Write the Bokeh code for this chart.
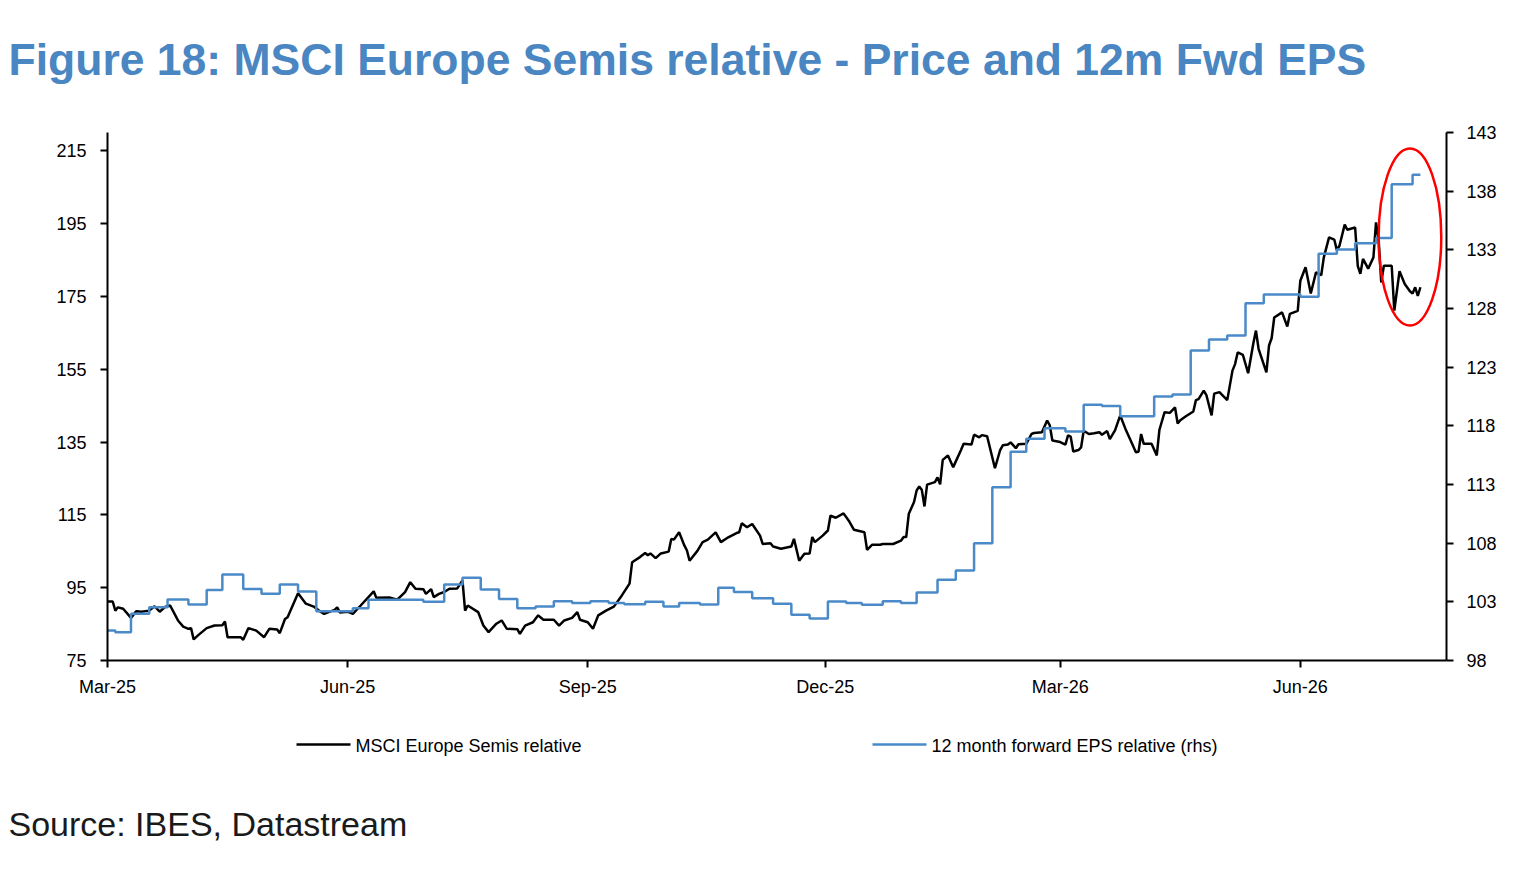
import pandas as pd
from bokeh.plotting import figure
from bokeh.layouts import column
from bokeh.models import Range1d, LinearAxis, FixedTicker, DatetimeTickFormatter, Label
from bokeh.core.properties import value
from bokeh.embed import file_html
from bokeh.resources import INLINE

# ---------------- data ----------------
start_date = "2025-03-01"

price_days = [0, 2, 3, 4, 6, 9, 11, 13, 16, 18, 20, 22, 24, 27, 29, 31, 32, 33, 35, 38,
              41, 44, 45, 46, 51, 52, 54, 57, 60, 62, 65, 66, 68, 69, 73, 76, 79, 81, 83, 87,
              88, 89, 92, 94, 97, 102, 103, 108, 111, 114, 116, 118, 121, 122, 124, 125, 127, 129, 131, 134,
              136, 137, 138, 142, 144, 146, 149, 151, 153, 157, 158, 160, 163, 165, 167, 171, 173, 175, 178, 180,
              181, 184, 186, 188, 191, 194, 197, 200, 201, 204, 206, 207, 208, 210, 212, 215, 216, 217, 219, 221,
              222, 223, 226, 228, 230, 233, 235, 238, 241, 242, 243, 245, 247, 250, 251, 254, 255, 258, 262, 263,
              265, 267, 269, 270, 271, 274, 276, 277, 279, 282, 284, 286, 290, 291, 293, 296, 297, 301, 304, 305,
              306, 307, 309, 310, 311, 312, 313, 314, 317, 318, 319, 320, 322, 324, 327, 328, 331, 332, 334, 335,
              337, 340, 342, 343, 345, 346, 348, 349, 352, 354, 355, 358, 360, 361, 362, 365, 367, 368, 369, 370,
              372, 373, 374, 376, 378, 380, 381, 383, 384, 386, 388, 390, 392, 394, 395, 396, 397, 400, 402, 403,
              405, 407, 409, 410, 411, 413, 416, 417, 418, 420, 421, 423, 424, 426, 429, 431, 432, 433, 435, 437,
              439, 440, 441, 444, 445, 446, 447, 450, 452, 453, 456, 457, 459, 461, 463, 465, 466, 468, 470, 471,
              472, 474, 475, 478, 479, 480, 481, 483, 485, 486, 487, 488, 489, 492, 493, 495, 497, 499, 500, 501,
              502, 503]

price_values = [91.2, 91.2, 88.7, 89.6, 89.2, 86.7, 88.5, 88.4, 88.7, 89.9, 88.4, 89.7, 90.1, 86.0, 84.3, 83.7, 83.9, 80.8, 82.1, 83.9,
                84.6, 84.7, 85.7, 81.4, 81.4, 80.7, 83.9, 83.2, 81.4, 83.7, 83.5, 82.5, 86.4, 86.9, 93.5, 90.6, 89.8, 88.7, 87.8, 88.9,
                89.6, 88.2, 88.4, 87.8, 90.1, 94.0, 92.2, 92.3, 91.7, 93.8, 96.5, 94.7, 94.6, 93.3, 94.6, 92.4, 93.3, 93.8, 94.7, 94.8,
                97.0, 88.7, 90.1, 88.3, 84.6, 82.8, 85.1, 86.0, 83.7, 83.6, 82.3, 84.6, 85.5, 87.4, 86.2, 86.2, 84.6, 86.0, 86.7, 88.3,
                86.2, 85.5, 83.7, 87.4, 88.7, 89.8, 92.8, 96.1, 102.0, 103.4, 104.5, 103.9, 104.4, 103.1, 104.4, 104.9, 108.4, 108.2, 110.2, 106.6,
                105.2, 102.4, 105.1, 107.5, 108.2, 110.2, 107.5, 108.9, 110.0, 110.2, 112.7, 111.6, 112.5, 109.3, 107.0, 107.2, 106.3, 105.7, 106.3, 108.4,
                102.4, 104.3, 104.4, 108.9, 107.5, 109.3, 110.7, 114.8, 114.2, 115.4, 113.4, 110.9, 110.2, 105.4, 106.8, 106.8, 107.0, 107.0, 107.9, 108.9,
                108.9, 115.3, 118.5, 121.7, 122.8, 121.8, 117.3, 123.3, 124.0, 125.3, 123.4, 130.1, 131.3, 128.1, 132.8, 134.5, 134.3, 137.0, 136.3, 136.9,
                136.6, 127.8, 132.8, 134.1, 134.3, 134.9, 133.3, 134.4, 134.5, 137.2, 137.5, 137.7, 140.9, 139.6, 135.4, 135.0, 134.3, 136.8, 136.5, 132.4,
                132.8, 133.5, 138.1, 137.2, 137.4, 137.7, 137.0, 138.0, 135.8, 138.2, 142.3, 138.6, 135.4, 132.2, 132.3, 137.2, 134.5, 134.5, 131.3, 138.3,
                143.2, 143.0, 144.5, 140.1, 141.0, 142.0, 143.4, 146.5, 146.8, 149.1, 147.9, 142.3, 148.3, 148.7, 146.5, 154.6, 156.4, 159.6, 158.9, 153.9,
                162.1, 165.6, 160.6, 154.1, 161.5, 163.5, 169.2, 170.6, 166.7, 170.2, 171.0, 179.3, 183.0, 175.8, 181.6, 180.8, 185.7, 191.2, 190.6, 187.7,
                188.9, 194.7, 193.3, 193.9, 183.4, 181.2, 185.3, 182.6, 185.7, 195.3, 190.6, 178.8, 183.4, 183.4, 171.1, 181.9, 178.4, 176.4, 175.8, 177.5,
                175.1, 177.5]

eps_days = [0, 3, 9, 16, 23, 31, 38, 44, 52, 59, 66, 73, 80, 94, 100, 121, 129, 136, 143, 150,
            157, 164, 171, 178, 185, 192, 198, 206, 213, 219, 227, 234, 240, 247, 255, 262, 269, 276, 283, 289,
            297, 304, 310, 318, 325, 332, 339, 346, 352, 359, 367, 374, 381, 388, 401, 408, 415, 422, 429, 436,
            443, 457, 464, 471, 478, 486, 492, 500, 503]

eps_values = [100.56, 100.4, 101.98, 102.54, 103.2, 102.77, 104.0, 105.33, 104.1, 103.68, 104.48, 103.88, 102.2, 102.46, 103.17, 103.0, 104.48, 105.05, 104.05, 103.25,
              102.46, 102.6, 103.06, 102.9, 103.06, 102.9, 102.8, 103.0, 102.6, 102.9, 102.77, 104.2, 103.83, 103.3, 102.83, 101.9, 101.58, 103.03, 102.9, 102.75,
              103.06, 102.9, 103.8, 104.88, 105.67, 108.0, 112.77, 115.8, 116.9, 117.8, 117.52, 119.8, 119.7, 118.82, 120.5, 120.67, 124.42, 125.36, 125.7, 128.45,
              129.2, 129.0, 132.66, 133.03, 133.57, 134.0, 138.6, 139.4, 139.4]

x_tick_dates = ["2025-03-01", "2025-06-01", "2025-09-01", "2025-12-01", "2026-03-01", "2026-06-01"]
left_ticks = [75, 95, 115, 135, 155, 175, 195, 215]
right_ticks = [98, 103, 108, 113, 118, 123, 128, 133, 138, 143]

title_text = "Figure 18: MSCI Europe Semis relative - Price and 12m Fwd EPS"
source_text = "Source: IBES, Datastream"
series_labels = ["MSCI Europe Semis relative", "12 month forward EPS relative (rhs)"]

# highlight annotation (ellipse around the latest weeks)
highlight_day = 499
highlight_value = 191.3
highlight_width_days = 24
highlight_height = 48.6

# ---------------- styling ----------------
FONT = "Liberation Sans"
BLUE = "#4A8AC8"
TITLE_BLUE = "#4A86C1"
W = 1524
FRAME_L, FRAME_R = 107, 78

base = pd.Timestamp(start_date)
price_x = base + pd.to_timedelta(price_days, unit="D")
eps_x = base + pd.to_timedelta(eps_days, unit="D")

# ---- main chart (page y 0..710) ----
p = figure(width=W, height=710, x_axis_type="datetime",
           x_range=Range1d(base, base + pd.Timedelta(days=513)),
           y_range=Range1d(75, 220),
           output_backend="svg", toolbar_location=None,
           min_border_left=FRAME_L, min_border_right=FRAME_R, min_border_top=132, min_border_bottom=50)
p.extra_y_ranges = {"eps": Range1d(98, 143)}
p.outline_line_color = None
p.xgrid.grid_line_color = None
p.ygrid.grid_line_color = None
p.background_fill_color = "white"
p.border_fill_color = "white"

p.line(price_x, price_values, line_color="black", line_width=2.5)
p.step(eps_x, eps_values, mode="after", line_color=BLUE, line_width=2.5, y_range_name="eps")

p.ellipse(x=[base + pd.Timedelta(days=highlight_day)], y=[highlight_value],
          width=[highlight_width_days * 86400000], height=[highlight_height],
          fill_color=None, line_color="#FF0000", line_width=2.5)


def style_axis(ax):
    ax.axis_line_color = "black"
    ax.axis_line_width = 2
    ax.major_tick_line_color = "black"
    ax.major_tick_line_width = 2
    ax.major_tick_in = 0
    ax.major_tick_out = 7
    ax.minor_tick_line_color = None
    ax.major_label_text_font = FONT
    ax.major_label_text_font_size = "18px"
    ax.major_label_text_color = "black"


xa = p.xaxis[0]
xa.ticker = FixedTicker(ticks=[pd.Timestamp(d).value / 1e6 for d in x_tick_dates])
xa.formatter = DatetimeTickFormatter(days="%b-%y", months="%b-%y", years="%b-%y")
style_axis(xa)
xa.major_label_standoff = 9

ya = p.yaxis[0]
ya.ticker = FixedTicker(ticks=left_ticks)
style_axis(ya)
ya.major_label_standoff = 14

ra = LinearAxis(y_range_name="eps", ticker=FixedTicker(ticks=right_ticks))
style_axis(ra)
ra.major_label_standoff = 13
p.add_layout(ra, "right")

p.add_layout(Label(x=8, y=59, x_units="canvas", y_units="canvas", text=title_text,
                   text_font=FONT, text_font_size="44.5px", text_font_style="bold",
                   text_color=TITLE_BLUE, text_baseline="alphabetic", text_align="left"), "above")

# ---- legend + source strip (page y 710..873) ----
BH = 163
b = figure(width=W, height=BH, x_range=Range1d(FRAME_L, W - FRAME_R), y_range=Range1d(BH - 50, 0),
           x_axis_location=None, y_axis_location=None,
           output_backend="svg", toolbar_location=None,
           min_border_left=FRAME_L, min_border_right=FRAME_R, min_border_top=0, min_border_bottom=50)
b.outline_line_color = None
b.xgrid.grid_line_color = None
b.ygrid.grid_line_color = None
b.background_fill_color = "white"
b.border_fill_color = "white"

legend_colors = ["black", BLUE]
legend_x0 = [296, 872]
b.segment(x0=legend_x0, y0=[34, 34], x1=[x + 54 for x in legend_x0], y1=[34, 34],
          line_color=legend_colors, line_width=2.5)
b.text(x=[x + 59 for x in legend_x0], y=[35, 35], text=series_labels,
       text_font=value(FONT), text_font_size="18px", text_color="black",
       text_baseline="middle", text_align="left")

b.add_layout(Label(x=8, y=113, x_units="canvas", y_units="canvas", text=source_text,
                   text_font=FONT, text_font_size="34px",
                   text_color="#1a1a1a", text_baseline="alphabetic", text_align="left"), "below")

layout = column(p, b, spacing=0)
open("out.html", "w").write(file_html(layout, INLINE))
